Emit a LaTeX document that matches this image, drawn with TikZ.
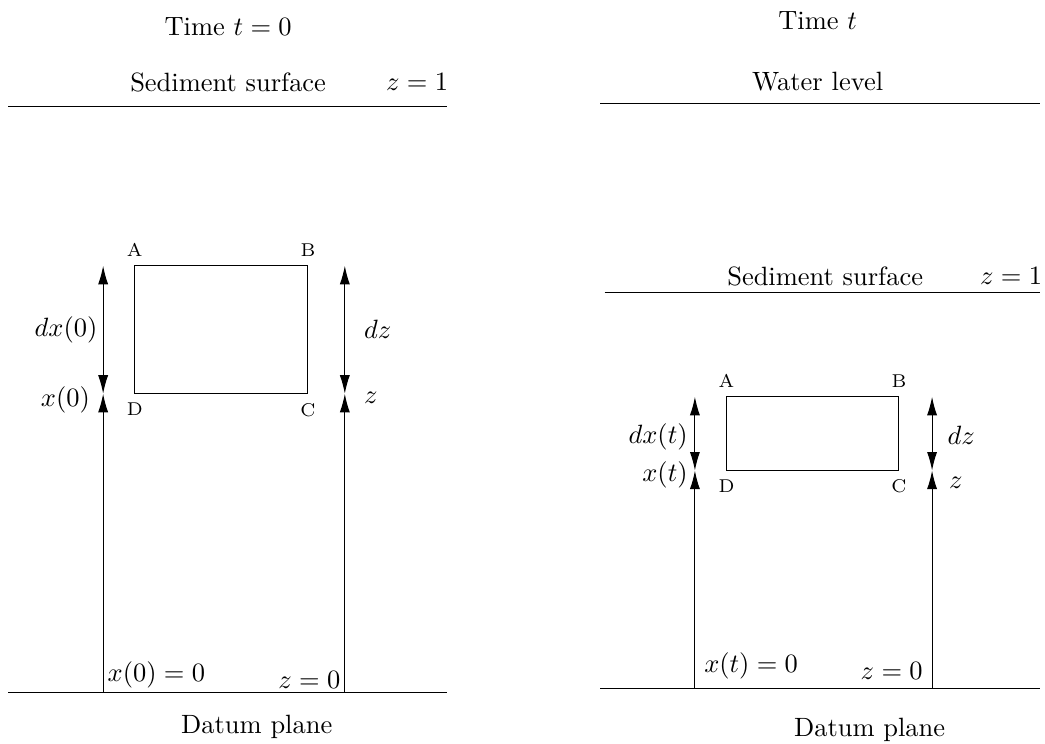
\documentclass[tikz,border=0pt]{standalone}
\usepackage{amsmath}
\usetikzlibrary{arrows.meta}

\begin{document}
\begin{tikzpicture}[>={Latex[length=7pt,width=3.8pt]},
  corner/.style={font=\scriptsize},
  tag/.style={inner sep=0pt}]
  \useasboundingbox (0,0) rectangle (13.88,9.88);
  % time t = 0
  \node (time0) at (3.03,9.52) {Time $t=0$};
  \draw (0.11,8.46) -- (5.94,8.46);
  \node (sed0) at (3.03,8.79) {Sediment surface};
  \node (ztop0) at (5.54,8.79) {$z=1$};
  \draw (0.11,0.68) -- (5.94,0.68);
  \node (datum0) at (3.41,0.23) {Datum plane};
  \coordinate (xb0) at (1.37,0.68);
  \coordinate (xd0) at (1.37,4.65);
  \coordinate (xa0) at (1.37,6.35);
  \coordinate (zb0) at (4.58,0.68);
  \coordinate (zc0) at (4.58,4.65);
  \coordinate (zt0) at (4.58,6.35);
  \coordinate (A0) at (1.79,6.35);
  \coordinate (B0) at (4.09,6.35);
  \coordinate (C0) at (4.09,4.65);
  \coordinate (D0) at (1.79,4.65);
  \draw (A0) -- (B0) -- (C0) -- (D0) -- cycle;
  \node[corner,above] (lA0) at (A0) {A};
  \node[corner,above] (lB0) at (B0) {B};
  \node[corner,below] (lC0) at (C0) {C};
  \node[corner,below] (lD0) at (D0) {D};
  \draw[->] (xb0) -- (xd0);
  \draw[<->] (xd0) -- (xa0);
  \draw[->] (zb0) -- (zc0);
  \draw[<->] (zc0) -- (zt0);
  \node[tag,anchor=east] (dx0) at (1.30,5.50) {$dx(0)$};
  \node[tag,anchor=east] (x0) at (1.20,4.57) {$x(0)$};
  \node[tag,anchor=west] (dz0) at (4.83,5.50) {$dz$};
  \node[tag,anchor=west] (z0) at (4.83,4.59) {$z$};
  \node[inner sep=1.5pt,anchor=south west] (xzero0) at (xb0) {$x(0)=0$};
  \node[inner sep=1.5pt,anchor=south east] (zzero0) at (zb0) {$z=0$};

  % time t
  \node (timet) at (10.86,9.61) {Time $t$};
  \draw (7.97,8.51) -- (13.81,8.51);
  \node (water) at (10.86,8.79) {Water level};
  \draw (8.03,5.99) -- (13.81,5.99);
  \node (sedt) at (10.96,6.21) {Sediment surface};
  \node (ztopt) at (13.43,6.21) {$z=1$};
  \draw (7.97,0.73) -- (13.81,0.73);
  \node (datumt) at (11.55,0.18) {Datum plane};
  \coordinate (xbt) at (9.23,0.73);
  \coordinate (xdt) at (9.23,3.63);
  \coordinate (xat) at (9.23,4.61);
  \coordinate (zbt) at (12.38,0.73);
  \coordinate (zct) at (12.38,3.63);
  \coordinate (ztt) at (12.38,4.61);
  \coordinate (At) at (9.65,4.61);
  \coordinate (Bt) at (11.94,4.61);
  \coordinate (Ct) at (11.94,3.63);
  \coordinate (Dt) at (9.65,3.63);
  \draw (At) -- (Bt) -- (Ct) -- (Dt) -- cycle;
  \node[corner,above] (lAt) at (At) {A};
  \node[corner,above] (lBt) at (Bt) {B};
  \node[corner,below] (lCt) at (Ct) {C};
  \node[corner,below] (lDt) at (Dt) {D};
  \draw[->] (xbt) -- (xdt);
  \draw[<->] (xdt) -- (xat);
  \draw[->] (zbt) -- (zct);
  \draw[<->] (zct) -- (ztt);
  \node[tag,anchor=east] (dxt) at (9.14,4.08) {$dx(t)$};
  \node[tag,anchor=east] (xt) at (9.14,3.57) {$x(t)$};
  \node[tag,anchor=west] (dzt) at (12.58,4.10) {$dz$};
  \node[tag,anchor=west] (zt) at (12.60,3.47) {$z$};
  \node[anchor=south west] (xzerot) at (xbt) {$x(t)=0$};
  \node[anchor=south east] (zzerot) at (zbt) {$z=0$};
\end{tikzpicture}
\end{document}
